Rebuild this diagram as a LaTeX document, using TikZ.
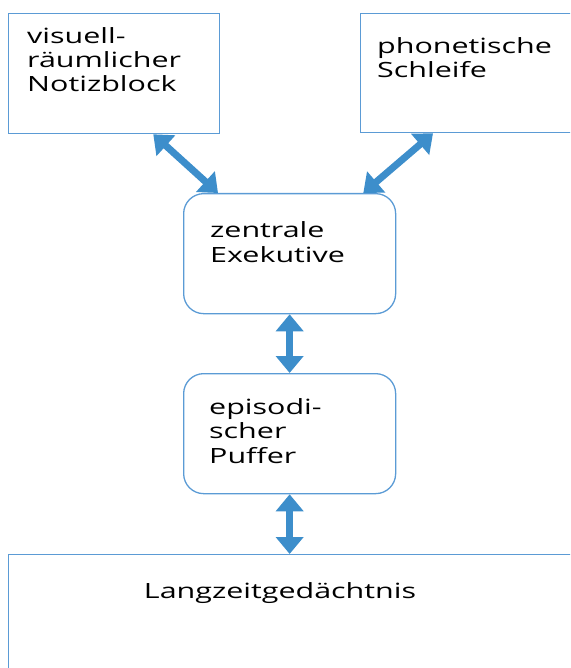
\documentclass[tikz,border=0pt]{standalone}
\usepackage{fontspec}
\setmainfont{Open Sans}[FakeStretch=1.45]
\usetikzlibrary{arrows.meta,calc,positioning}
\definecolor{rimblue}{HTML}{5B9BD5}
\definecolor{arrowblue}{HTML}{3D8ECB}

\begin{document}
\begin{tikzpicture}[x=1pt, y=-1pt,
		box/.style={draw=rimblue, line width=1.3pt, inner sep=0pt, anchor=north west},
		roundbox/.style={box, rounded corners=20pt},
		boxtext/.style={anchor=base west, inner sep=0pt, align=left, font=\fontsize{21}{24.2}\selectfont},
		link/.style={arrowblue, line width=7pt, {Triangle[width=27pt,length=17pt]}-{Triangle[width=27pt,length=17pt]}}]
			%%%%% START %%%%%
			
			\useasboundingbox (0, 0) rectangle (570, 668);
			\clip (0, 0) rectangle (570, 668);
			
			\node[box, minimum width=211pt, minimum height=120pt] (notiz) at (8, 13) {};
			\node[box, minimum width=215pt, minimum height=119pt] (schleife) at (360, 13) {};
			\node[roundbox, minimum width=212pt, minimum height=120pt] (exekutive) at (183, 193) {};
			\node[roundbox, minimum width=212pt, minimum height=120pt] (puffer) at (183, 373) {};
			\node[box, minimum width=567pt, minimum height=125pt] (ltm) at (8, 554) {};
			
			% base = baseline of the last line
			\node[boxtext] (notiztext) at ($(notiz.north west)+(19, 79)$) {visuell-\\räumlicher\\Notizblock};
			\node[boxtext] (schleifetext) at ($(schleife.north west)+(17, 65)$) {phonetische\\Schleife};
			\node[boxtext] (exekutivetext) at ($(exekutive.north west)+(27, 69)$) {zentrale\\Exekutive};
			\node[boxtext] (puffertext) at ($(puffer.north west)+(26, 90)$) {episodi-\\scher\\Puffer};
			\node[boxtext, anchor=base] (ltmtext) at ($(ltm.north west)+(272, 44)$) {Langzeitgedächtnis};
			
			\draw[link] ([xshift=-67pt]notiz.south east) -- ([xshift=35pt]exekutive.north west);
			\draw[link] ([xshift=73pt]schleife.south west) -- ([xshift=-33pt]exekutive.north east);
			\draw[link] (exekutive.south) -- (puffer.north);
			\draw[link] (puffer.south) -- (puffer.south |- ltm.north);
			
			%%%%% END %%%%%
\end{tikzpicture}
\end{document}
